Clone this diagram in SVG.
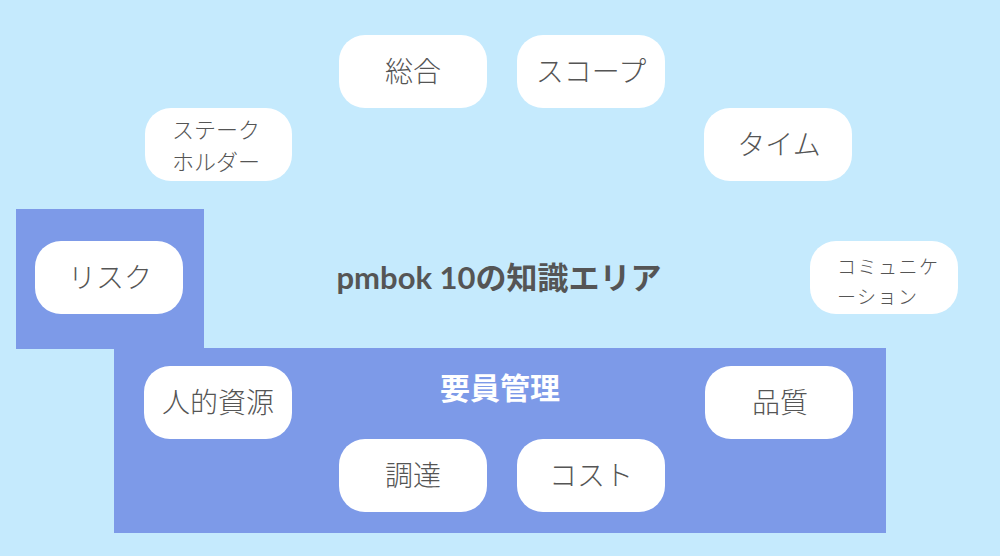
<svg xmlns="http://www.w3.org/2000/svg" width="1000" height="556" viewBox="0 0 1000 556">
<style>
.bg{fill:#c5eafd}
.area{fill:#7d9ae8}
.node rect{fill:#ffffff}
.node text{font-family:"Noto Sans CJK JP",sans-serif;font-weight:300;fill:#555555;text-anchor:middle}
.node text.left{text-anchor:start}
.t28{font-size:28px}
.t22{font-size:22px}
.t18{font-size:19px;letter-spacing:1.5px}
.title{font-family:Lato,"Noto Sans CJK JP",sans-serif;font-weight:bold;text-anchor:middle}
</style>
<rect class="bg" x="0" y="0" width="1000" height="556"/>
<g id="areas">
<rect class="area" x="16" y="209" width="188" height="140"/>
<rect class="area" x="114" y="348" width="772" height="185"/>
</g>
<g id="connectors"></g>
<text class="title" x="499" y="289" font-size="31" fill="#555555">pmbok 10の知識エリア</text>
<text class="title" x="500" y="399" font-size="30" fill="#ffffff">要員管理</text>
<g id="n-sougou" class="node"><rect x="339" y="35" width="148" height="73" rx="26"/><text class="t28" x="413" y="82">総合</text></g>
<g id="n-scope" class="node"><rect x="517" y="35" width="148" height="73" rx="26"/><text class="t28" x="591" y="82">スコープ</text></g>
<g id="n-stake" class="node"><rect x="145" y="108" width="147" height="73" rx="26"/><text class="t22" x="216" y="138">ステーク</text><text class="t22" x="216" y="170">ホルダー</text></g>
<g id="n-time" class="node"><rect x="704" y="108" width="148" height="73" rx="26"/><text class="t28" x="779" y="155">タイム</text></g>
<g id="n-risk" class="node"><rect x="35" y="241" width="148" height="73" rx="26"/><text class="t28" x="110" y="288">リスク</text></g>
<g id="n-comm" class="node"><rect x="810" y="241" width="148" height="73" rx="26"/><text class="t18 left" x="837" y="274">コミュニケ</text><text class="t18 left" x="837" y="304">ーション</text></g>
<g id="n-jinteki" class="node"><rect x="144" y="366" width="148" height="73" rx="26"/><text class="t28" x="218" y="413">人的資源</text></g>
<g id="n-hinshitsu" class="node"><rect x="705" y="366" width="148" height="73" rx="26"/><text class="t28" x="780" y="413">品質</text></g>
<g id="n-choutatsu" class="node"><rect x="339" y="439" width="148" height="73" rx="26"/><text class="t28" x="413" y="486">調達</text></g>
<g id="n-cost" class="node"><rect x="517" y="439" width="148" height="73" rx="26"/><text class="t28" x="591" y="486">コスト</text></g>
</svg>
